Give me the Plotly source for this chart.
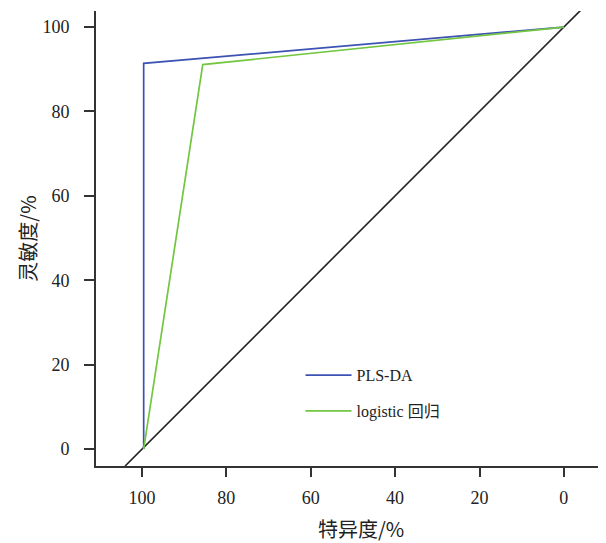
import plotly.graph_objects as go

# Data (specificity %, sensitivity %)
pls_spec = [99.6, 99.6, 0]
pls_sens = [0, 91.4, 100]
log_spec = [99.6, 85.6, 0]
log_sens = [0, 91.1, 100]
diag_spec = [104, -4]
diag_sens = [-4, 104]
xticks = [100, 80, 60, 40, 20, 0]
yticks = [0, 20, 40, 60, 80, 100]

FONT = "Liberation Serif, Times New Roman, Noto Sans CJK SC, serif"
CJK = "Noto Sans CJK SC, Liberation Serif, sans-serif"

fig = go.Figure()
fig.add_trace(go.Scatter(x=diag_spec, y=diag_sens, mode="lines",
                         line=dict(color="#222222", width=1.6),
                         showlegend=False, hoverinfo="skip"))
fig.add_trace(go.Scatter(x=pls_spec, y=pls_sens, mode="lines", name="PLS-DA",
                         legendgroup="a",
                         line=dict(color="#3d52b3", width=1.7)))
fig.add_trace(go.Scatter(x=log_spec, y=log_sens, mode="lines", name="logistic 回归",
                         legendgroup="b",
                         line=dict(color="#72c640", width=1.7)))

fig.update_layout(
    width=598, height=535,
    margin=dict(l=88, r=5, t=3, b=77, autoexpand=False),
    plot_bgcolor="white", paper_bgcolor="white",
    font=dict(family=FONT, size=18, color="#222222"),
    legend=dict(x=0.405, y=0.237, xanchor="left", yanchor="top",
                bgcolor="rgba(0,0,0,0)", tracegroupgap=12, itemwidth=46,
                font=dict(family=FONT, size=16, color="#222222")),
    xaxis=dict(range=[110.9, -8.8], tickvals=xticks, ticks="outside", ticklen=9,
               tickwidth=1.5, tickcolor="#333333", automargin=False,
               showline=True, linecolor="#333333", linewidth=1.8,
               showgrid=False, zeroline=False, ticklabelstandoff=5),
    yaxis=dict(range=[-4.0, 103.8], tickvals=yticks, ticks="outside", ticklen=10,
               tickwidth=1.5, tickcolor="#333333", automargin=False,
               showline=True, linecolor="#333333", linewidth=1.8,
               showgrid=False, zeroline=False, ticklabelstandoff=11,
               title=dict(text="灵敏度/%", font=dict(family=CJK, size=20), standoff=1)),
    annotations=[dict(text="特异度/%", xref="paper", yref="paper",
                      x=(361 - 96) / 505, y=-0.138, xanchor="center", yanchor="middle",
                      showarrow=False, font=dict(family=CJK, size=20, color="#222222"))],
)

fig.write_html("out.html")
